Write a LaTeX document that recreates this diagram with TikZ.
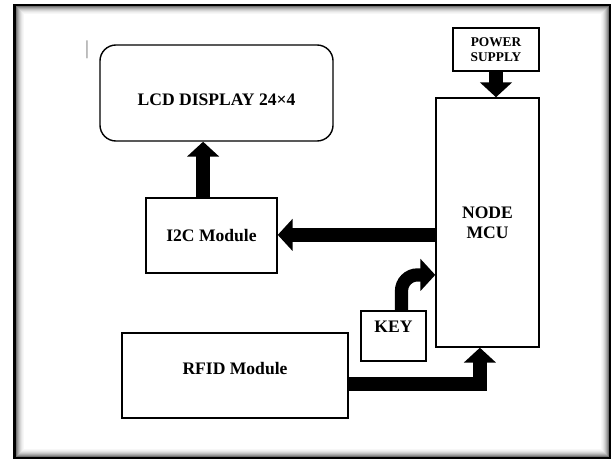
\documentclass[tikz,border=0pt]{standalone}
\usepackage{fontspec}
\setmainfont{Liberation Serif}
\usepackage{tikz}
\usetikzlibrary{positioning, arrows.meta, calc}
\definecolor{framegray}{HTML}{7F7F7F}

\begin{document}
\begin{tikzpicture}[
    x=0.025cm, y=-0.025cm,
    box/.style={draw, line width=1pt, font=\fontsize{12.5}{14}\selectfont\bfseries,
                align=center, inner sep=0pt},
    smallbox/.style={box, font=\fontsize{9.5}{11}\selectfont\bfseries},
    arr/.style={-{Triangle[length=0.37cm, width=0.78cm]}, line width=0.33cm},
]
\useasboundingbox (0,0) rectangle (613,459);
% frame with inner shadow
\fill[white] (0,0) rectangle (613,459);
\foreach \d/\c in {2/55,3/42,4/32,5/23,6/16,7/10,8/6,9/3}
  \draw[black!\c, line width=0.025cm] (14.5+\d,5+\d) rectangle (610-\d,458-\d);
\draw[line width=0.07cm] (14.5,5) rectangle (610,458);

\node[font=\fontsize{14}{14}\selectfont, text=framegray] (mark) at (87,50) {|};
\node[box, rounded corners=0.4cm, minimum width=5.825cm, minimum height=2.4cm,
      text height=18pt, text depth=0pt] (lcd) at (216.5,93) {LCD DISPLAY 24×4};
\node[smallbox, minimum width=2.15cm, minimum height=1.075cm] (power) at (496,49.5)
  {POWER\\SUPPLY};
\node[box, minimum width=2.575cm, minimum height=6.225cm] (mcu) at (487.5,222.5)
  {NODE\\MCU};
\node[box, minimum width=3.275cm, minimum height=1.875cm] (i2c) at (211.5,235.5)
  {I2C Module};
\node[box, minimum width=1.625cm, minimum height=1.25cm,
      text height=8pt, text depth=12.8pt] (key) at (393.5,336) {KEY};
\node[box, minimum width=5.65cm, minimum height=2.125cm,
      text height=8pt, text depth=9.2pt] (rfid) at (235,375.5) {RFID Module};

\draw[arr] ([xshift=-0.21cm]i2c.north) -- ([xshift=-0.21cm]i2c.north |- lcd.south);
\draw[arr] ([yshift=-0.31cm]mcu.west) -- ([yshift=-0.31cm]mcu.west -| i2c.east);
\draw[arr] (power.south) -- (power.south |- mcu.north);
\draw[arr, rounded corners=0.4cm] ([xshift=0.2cm]key.north) |- ([yshift=-1.31cm]mcu.west);
\draw[arr] ([yshift=-0.21cm]rfid.east) -| ([xshift=-0.19cm]mcu.south);
\end{tikzpicture}
\end{document}
